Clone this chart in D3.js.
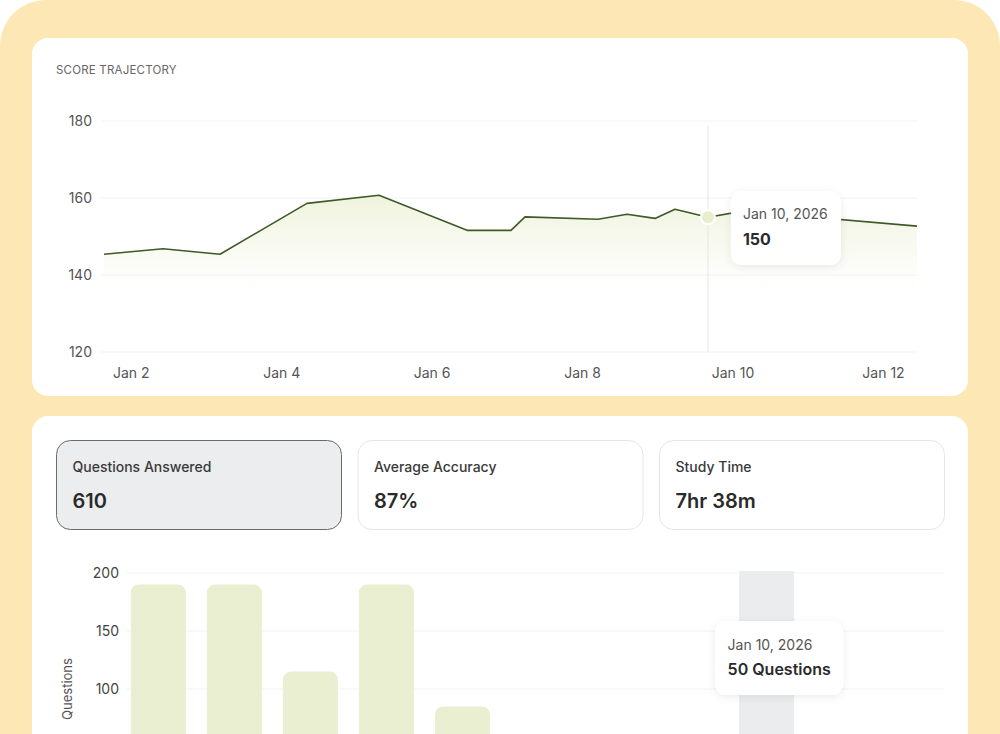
<!DOCTYPE html>
<html>
<head>
<meta charset="utf-8">
<script src="https://cdn.jsdelivr.net/npm/d3@7/dist/d3.min.js"></script>
<style>
  html, body { margin: 0; padding: 0; background: #ffffff; }
  svg { display: block; font-family: Inter, "Noto Sans", sans-serif; }
</style>
</head>
<body>
<svg id="chart" width="1000" height="734"></svg>
<script>
// ---------- data ----------
const scoreDates = ["2026-01-01T16:06","2026-01-02T10:55","2026-01-03T05:07","2026-01-04T08:51",
  "2026-01-05T07:51","2026-01-06T11:56","2026-01-07T01:57","2026-01-07T06:26","2026-01-08T05:43",
  "2026-01-08T14:59","2026-01-08T23:54","2026-01-09T06:17","2026-01-09T16:48","2026-01-10T03:59",
  "2026-01-12T11:30"];
const scoreValues = [145.4, 146.8, 145.4, 158.6, 160.7, 151.6, 151.6, 155.1, 154.5, 155.8, 154.7, 157.1, 155.0, 156.6, 152.7];
const scoreYTicks = [120, 140, 160, 180];
const scoreXTicks = ["2026-01-02","2026-01-04","2026-01-06","2026-01-08","2026-01-10","2026-01-12"];
const scoreHighlightIndex = 12;
const scoreTooltipDate = "Jan 10, 2026";
const scoreTooltipValue = "150";

const statLabels = ["Questions Answered", "Average Accuracy", "Study Time"];
const statValues = ["610", "87%", "7hr 38m"];
const statActiveIndex = 0;

const barCategories = ["Jan 2","Jan 3","Jan 4","Jan 5","Jan 6","Jan 7","Jan 8","Jan 9","Jan 10","Jan 11","Jan 12"];
const barValues = [190, 190, 115, 190, 85, 40, 30, 20, 50, 35, 25];
const barYTicks = [100, 150, 200];
const barHighlight = "Jan 10";
const barTooltipDate = "Jan 10, 2026";
const barTooltipValue = "50 Questions";

// ---------- setup ----------
const svg = d3.select("#chart");
const defs = svg.append("defs");

const shadow = defs.append("filter").attr("id", "shadow")
  .attr("x", "-30%").attr("y", "-30%").attr("width", "160%").attr("height", "170%");
shadow.append("feDropShadow").attr("dx", 0).attr("dy", 2).attr("stdDeviation", 4)
  .attr("flood-color", "#000").attr("flood-opacity", 0.08);

const grad = defs.append("linearGradient").attr("id", "areaGrad")
  .attr("gradientUnits", "userSpaceOnUse")
  .attr("x1", 0).attr("y1", 195).attr("x2", 0).attr("y2", 300);
grad.append("stop").attr("offset", "0%").attr("stop-color", "#e6edc8").attr("stop-opacity", 0.65);
grad.append("stop").attr("offset", "60%").attr("stop-color", "#eef3dc").attr("stop-opacity", 0.3);
grad.append("stop").attr("offset", "100%").attr("stop-color", "#ffffff").attr("stop-opacity", 0);

// background frame
svg.append("rect").attr("x", 0).attr("y", 0).attr("width", 1000).attr("height", 800)
  .attr("rx", 46).attr("fill", "#fde8b5");

// cards
svg.append("rect").attr("x", 32).attr("y", 38).attr("width", 936).attr("height", 358)
  .attr("rx", 16).attr("fill", "#ffffff");
svg.append("rect").attr("x", 32).attr("y", 416).attr("width", 936).attr("height", 400)
  .attr("rx", 16).attr("fill", "#ffffff");

// ---------- score trajectory ----------
svg.append("text").attr("x", 56).attr("y", 74)
  .attr("font-size", 11.5).attr("fill", "#666").attr("letter-spacing", 0.2)
  .text("SCORE TRAJECTORY");

const parseT = d3.timeParse("%Y-%m-%dT%H:%M");
const parseD = d3.timeParse("%Y-%m-%d");
const scoreData = scoreDates.map((d, i) => ({ date: parseT(d), value: scoreValues[i] }));

const x1 = d3.scaleTime().domain(d3.extent(scoreData, d => d.date)).range([104, 917]);
const y1 = d3.scaleLinear().domain([120, 180]).range([352, 121]);

const g1 = svg.append("g");
g1.append("g").selectAll("line").data(scoreYTicks).join("line")
  .attr("x1", 101).attr("x2", 918)
  .attr("y1", d => y1(d)).attr("y2", d => y1(d))
  .attr("stroke", "#f2f2f2").attr("stroke-width", 1);

const yAx1 = d3.axisLeft(y1).tickValues(scoreYTicks).tickSize(0).tickPadding(0);
g1.append("g").attr("transform", "translate(92,0)").call(yAx1)
  .call(g => g.select(".domain").remove())
  .call(g => g.selectAll("text").attr("font-size", 14).attr("fill", "#555")
    .attr("font-family", "Inter, 'Noto Sans', sans-serif"));

const xAx1 = d3.axisBottom(x1).tickValues(scoreXTicks.map(parseD))
  .tickFormat(d3.timeFormat("%b %-d")).tickSize(0).tickPadding(0);
g1.append("g").attr("transform", "translate(2,368)").call(xAx1)
  .call(g => g.select(".domain").remove())
  .call(g => g.selectAll("text").attr("font-size", 14).attr("fill", "#555")
    .attr("font-family", "Inter, 'Noto Sans', sans-serif"));

const area = d3.area().x(d => x1(d.date)).y0(y1(120)).y1(d => y1(d.value));
const line = d3.line().x(d => x1(d.date)).y(d => y1(d.value));
g1.append("path").datum(scoreData).attr("d", area).attr("fill", "url(#areaGrad)");

const hp = scoreData[scoreHighlightIndex];
g1.append("line").attr("x1", x1(hp.date)).attr("x2", x1(hp.date))
  .attr("y1", 125).attr("y2", y1(120)).attr("stroke", "#e6e6e6").attr("stroke-width", 1);

g1.append("path").datum(scoreData).attr("d", line)
  .attr("fill", "none").attr("stroke", "#3d5a27").attr("stroke-width", 1.6)
  .attr("stroke-linejoin", "round");

g1.append("circle").attr("cx", x1(hp.date)).attr("cy", y1(hp.value)).attr("r", 7)
  .attr("fill", "#e8eecb").attr("stroke", "#ffffff").attr("stroke-width", 2);

const t1x = x1(hp.date) + 23, t1y = 191;
const tt1 = g1.append("g").attr("transform", `translate(${t1x},${t1y})`);
tt1.append("rect").attr("width", 110).attr("height", 74).attr("rx", 11)
  .attr("fill", "#fff").attr("filter", "url(#shadow)");
tt1.append("text").attr("x", 12).attr("y", 28).attr("font-size", 14).attr("fill", "#555")
  .text(scoreTooltipDate);
tt1.append("text").attr("x", 12).attr("y", 54).attr("font-size", 16).attr("font-weight", 700)
  .attr("fill", "#2a2a2a").text(scoreTooltipValue);

// ---------- stat cards ----------
const statW = 285, statH = 89, statGap = 16.5;
const sg = svg.append("g").selectAll("g").data(statLabels).join("g")
  .attr("transform", (d, i) => `translate(${56.5 + i * (statW + statGap)},440.5)`);
sg.append("rect").attr("width", statW).attr("height", statH).attr("rx", 14)
  .attr("fill", (d, i) => i === statActiveIndex ? "#ecedef" : "#ffffff")
  .attr("stroke", (d, i) => i === statActiveIndex ? "#6b6b6b" : "#e6e6e6")
  .attr("stroke-width", 1);
sg.append("text").attr("x", 16).attr("y", 31).attr("font-size", 14).attr("font-weight", 500)
  .attr("fill", "#3a3a3a").text(d => d);
sg.append("text").attr("x", 16).attr("y", 67).attr("font-size", 20).attr("font-weight", 600)
  .attr("fill", "#2a2a2a").text((d, i) => statValues[i]);

// ---------- bar chart ----------
const x2 = d3.scaleBand().domain(barCategories).range([127, 950]).paddingInner(0.276).paddingOuter(0.05);
const y2 = d3.scaleLinear().domain([0, 200]).range([805, 573]);
const g2 = svg.append("g");

g2.append("g").selectAll("line").data(barYTicks).join("line")
  .attr("x1", 126).attr("x2", 944)
  .attr("y1", d => y2(d)).attr("y2", d => y2(d))
  .attr("stroke", "#f2f2f2").attr("stroke-width", 1);

g2.append("rect").attr("x", x2(barHighlight)).attr("width", x2.bandwidth())
  .attr("y", 571).attr("height", 300).attr("fill", "#ebecee");

const yAx2 = d3.axisLeft(y2).tickValues(barYTicks).tickSize(0).tickPadding(0);
g2.append("g").attr("transform", "translate(119,0)").call(yAx2)
  .call(g => g.select(".domain").remove())
  .call(g => g.selectAll("text").attr("font-size", 14).attr("fill", "#444")
    .attr("font-family", "Inter, 'Noto Sans', sans-serif"));

g2.append("text").attr("transform", "translate(72,689) rotate(-90)")
  .attr("text-anchor", "middle").attr("font-size", 13).attr("fill", "#555").text("Questions");

g2.append("g").selectAll("rect").data(barCategories).join("rect")
  .attr("x", d => x2(d)).attr("width", x2.bandwidth())
  .attr("y", (d, i) => y2(barValues[i]))
  .attr("height", (d, i) => y2(0) - y2(barValues[i]) + 20)
  .attr("rx", 8).attr("fill", "#eaefd1");

const t2x = x2(barHighlight) - 24, t2y = 621;
const tt2 = g2.append("g").attr("transform", `translate(${t2x},${t2y})`);
tt2.append("rect").attr("width", 128).attr("height", 74).attr("rx", 11)
  .attr("fill", "#fff").attr("filter", "url(#shadow)");
tt2.append("text").attr("x", 12.5).attr("y", 28.5).attr("font-size", 14).attr("fill", "#555")
  .text(barTooltipDate);
tt2.append("text").attr("x", 12.5).attr("y", 54).attr("font-size", 16).attr("font-weight", 600)
  .attr("fill", "#2a2a2a").text(barTooltipValue);
</script>
</body>
</html>
